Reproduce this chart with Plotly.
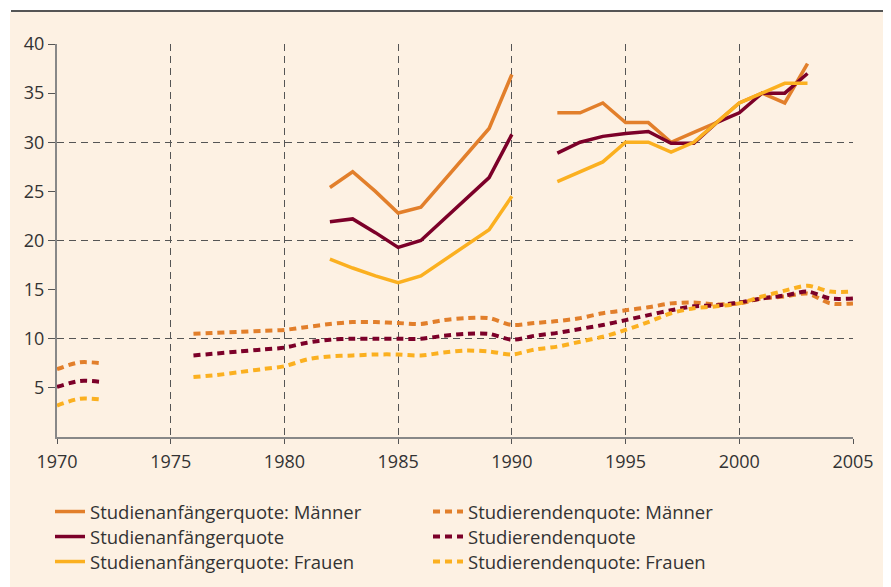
import plotly.graph_objects as go

# ---------------- data ----------------
years = list(range(1970, 2006))
N = None

# Studienanfängerquote (solid)
anf_maenner = [N]*12 + [25.4, 27.0, 25.0, 22.8, 23.4, 26.1, 28.7, 31.4, 36.9] + [N] + \
              [33.0, 33.0, 34.0, 32.0, 32.0, 30.0, 31.0, 32.0, 34.0, 35.0, 34.0, 38.0] + [N, N]
anf_gesamt = [N]*12 + [21.9, 22.2, 20.8, 19.3, 20.0, 22.1, 24.3, 26.4, 30.8] + [N] + \
             [28.9, 30.0, 30.6, 30.9, 31.1, 29.9, 29.9, 32.0, 33.0, 35.0, 35.0, 37.0] + [N, N]
anf_frauen = [N]*12 + [18.1, 17.2, 16.4, 15.7, 16.4, 18.0, 19.5, 21.1, 24.5] + [N] + \
             [26.0, 27.0, 28.0, 30.0, 30.0, 29.0, 30.0, 32.0, 34.0, 35.0, 36.0, 36.0] + [N, N]

# Studierendenquote (dashed)
stud_maenner = [6.9, 7.6, 7.5, N, N, N,
                10.5, 10.6, 10.7, 10.8, 10.9, 11.2, 11.5, 11.7, 11.7, 11.6, 11.5, 11.9, 12.1, 12.1,
                11.4, 11.6, 11.8, 12.1, 12.6, 12.9, 13.2, 13.6, 13.7, 13.5, 13.6, 14.1, 14.3, 14.6,
                13.6, 13.6]
stud_gesamt = [5.1, 5.7, 5.6, N, N, N,
               8.3, 8.5, 8.7, 8.9, 9.1, 9.6, 9.9, 10.0, 10.0, 10.0, 10.0, 10.3, 10.5, 10.5,
               9.9, 10.3, 10.6, 11.0, 11.4, 11.9, 12.4, 12.9, 13.3, 13.4, 13.7, 14.1, 14.4, 14.8,
               14.1, 14.1]
stud_frauen = [3.2, 3.9, 3.8, N, N, N,
               6.1, 6.3, 6.6, 6.9, 7.2, 7.9, 8.2, 8.3, 8.4, 8.4, 8.3, 8.6, 8.8, 8.7,
               8.4, 8.9, 9.2, 9.7, 10.2, 10.9, 11.7, 12.6, 13.1, 13.3, 13.6, 14.3, 14.9, 15.4,
               14.8, 14.8]

x_ticks = [1970, 1975, 1980, 1985, 1990, 1995, 2000, 2005]
y_ticks = [5, 10, 15, 20, 25, 30, 35, 40]
y_grid = [10, 20, 30, 40]

names = ["Studienanfängerquote: Männer", "Studierendenquote: Männer",
         "Studienanfängerquote", "Studierendenquote",
         "Studienanfängerquote: Frauen", "Studierendenquote: Frauen"]

# ---------------- style ----------------
C_M = "#E27F2B"
C_G = "#7C0029"
C_F = "#FBB020"
CREAM = "#FDF1E3"
TXT = "#333333"
FONT = "Open Sans, Liberation Sans, sans-serif"

OFF = 8  # default page body margin
W, H = 891 - OFF, 587 - OFF
# plot area in page pixels: x 57..853, y 44..437
ML, MT = 57 - OFF, 44 - OFF
PW, PH = 796, 393
MR = W - ML - PW
MB = H - MT - PH


def px(xp):  # page pixel -> paper x
    return (xp - OFF - ML) / PW


def py(yp):  # page pixel -> paper y
    return (MT + PH - (yp - OFF)) / PH


fig = go.Figure()

series = [
    (anf_maenner, C_M, False, "legend"), (stud_maenner, C_M, True, "legend"),
    (anf_gesamt, C_G, False, "legend2"), (stud_gesamt, C_G, True, "legend2"),
    (anf_frauen, C_F, False, "legend3"), (stud_frauen, C_F, True, "legend3"),
]
for (vals, col, dashed, lg), nm in zip(series, names):
    if dashed:
        line = dict(color=col, width=4, dash="7px,5px", shape="spline", smoothing=0.8)
    else:
        line = dict(color=col, width=3.5)
    fig.add_trace(go.Scatter(x=years, y=vals, mode="lines", name=nm, line=line,
                             connectgaps=False, hoverinfo="skip", legend=lg))

# invisible trace on the secondary y axis (labels/ticks)
fig.add_trace(go.Scatter(x=[1970], y=[0], yaxis="y2", mode="markers",
                         marker=dict(opacity=0), showlegend=False, hoverinfo="skip"))


def legend_row(ycenter):
    return dict(orientation="h", x=px(50), xanchor="left", y=py(ycenter), yanchor="middle",
                entrywidth=333, entrywidthmode="pixels", itemwidth=30,
                bgcolor="rgba(0,0,0,0)", font=dict(size=18.5, color=TXT),
                traceorder="normal")


fig.update_layout(
    width=W, height=H,
    margin=dict(l=ML, r=MR, t=MT, b=MB, autoexpand=False),
    paper_bgcolor=CREAM, plot_bgcolor=CREAM,
    font=dict(family=FONT, size=18, color=TXT),
    xaxis=dict(range=[1970, 2005], tickvals=x_ticks, ticks="outside", ticklen=5,
               tickcolor="#555", tickwidth=1,
               showgrid=True, gridcolor="#555", gridwidth=1, griddash="7px,5px",
               showline=True, linecolor="#888", linewidth=2, zeroline=False,
               tickfont=dict(size=18, color=TXT), ticklabelstandoff=2),
    yaxis=dict(range=[0, 40], tickvals=y_grid, showticklabels=False, ticks="",
               showgrid=True, gridcolor="#555", gridwidth=1, griddash="7px,5px",
               zeroline=False, showline=False),
    yaxis2=dict(range=[0, 40], overlaying="y", side="left", tickvals=y_ticks,
                ticks="outside", ticklen=7, tickcolor="#555", tickwidth=1,
                showgrid=False, zeroline=False, showline=True, linecolor="#888",
                linewidth=2, tickfont=dict(size=18, color=TXT), ticklabelstandoff=0),
    legend=legend_row(512),
    legend2=legend_row(537),
    legend3=legend_row(562),
    showlegend=True,
    shapes=[
        dict(type="rect", xref="paper", yref="paper", x0=px(-20), x1=px(10), y0=py(700),
             y1=py(-20), fillcolor="white", line=dict(width=0), layer="below"),
        dict(type="rect", xref="paper", yref="paper", x0=px(-20), x1=px(920), y0=py(12),
             y1=py(-20), fillcolor="white", line=dict(width=0), layer="below"),
        dict(type="line", xref="paper", yref="paper", x0=px(11), x1=px(900), y0=py(11),
             y1=py(11), line=dict(color="#555", width=2)),
    ],
)

fig.write_html("out.html")
